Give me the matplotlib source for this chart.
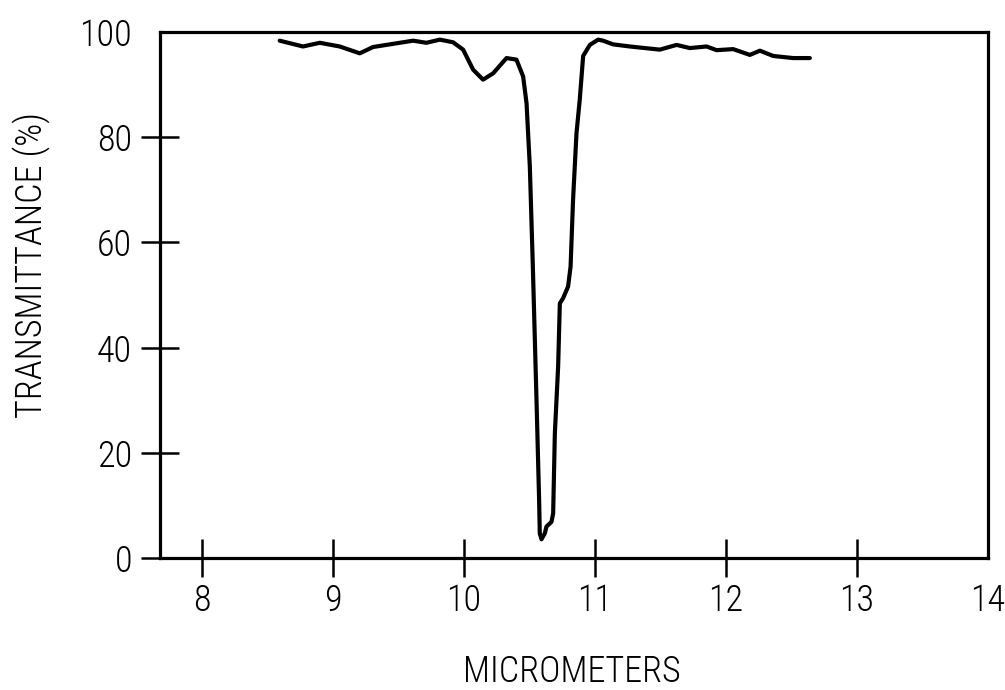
import numpy as np
import matplotlib
matplotlib.use('Agg')
import matplotlib.pyplot as plt

plt.rcParams['font.family'] = ['Roboto Condensed', 'Liberation Sans Narrow',
                               'DejaVu Sans Condensed', 'DejaVu Sans']
plt.rcParams['font.stretch'] = 'condensed'
plt.rcParams['font.weight'] = 'light'

# transmittance spectrum
wavelength = [8.595, 8.773, 8.901, 9.053, 9.206, 9.308, 9.511, 9.613, 9.715, 9.817,
              9.918, 9.995, 10.071, 10.147, 10.224, 10.326, 10.402, 10.453, 10.479, 10.504,
              10.527, 10.555, 10.575, 10.580, 10.593, 10.618, 10.631, 10.669, 10.682, 10.695,
              10.720, 10.733, 10.758, 10.796, 10.815, 10.834, 10.860, 10.885, 10.911, 10.962,
              11.025, 11.063, 11.140, 11.267, 11.496, 11.624, 11.725, 11.853, 11.929, 12.056,
              12.183, 12.260, 12.361, 12.514, 12.641]
transmittance = [98.3, 97.2, 97.9, 97.2, 95.9, 97.1, 97.9, 98.3, 97.9, 98.5,
                 98.0, 96.6, 92.8, 90.9, 92.1, 95.0, 94.7, 91.5, 86.4, 74.4,
                 55.4, 30.0, 11.0, 4.7, 3.6, 4.7, 6.0, 6.9, 8.5, 23.7,
                 36.4, 48.4, 49.4, 51.6, 55.4, 68.1, 80.7, 87.1, 95.4, 97.5,
                 98.5, 98.3, 97.6, 97.2, 96.6, 97.5, 96.9, 97.2, 96.5, 96.7,
                 95.6, 96.4, 95.4, 95.0, 95.0]

x_ticks = [8, 9, 10, 11, 12, 13, 14]
y_ticks = [0, 20, 40, 60, 80, 100]

fig = plt.figure(figsize=(10.05, 6.9), dpi=100)
ax = fig.add_axes([0.159, 0.191, 0.824, 0.763])

ax.plot(wavelength, transmittance, color='black', linewidth=3.0,
        solid_joinstyle='round', solid_capstyle='round')

ax.set_xlim(7.68, 14.0)
ax.set_ylim(0, 100)
ax.set_xticks(x_ticks)
ax.set_yticks(y_ticks)
ax.set_xticklabels([str(t) for t in x_ticks])
ax.set_yticklabels([str(t) for t in y_ticks])

for s in ax.spines.values():
    s.set_linewidth(2.3)
ax.tick_params(axis='both', direction='inout', length=28, width=1.8,
               labelsize=26, colors='black')
ax.tick_params(axis='x', pad=4)
ax.tick_params(axis='y', pad=6)
# top and right spines carry no marks at 100 / 14
ax.yaxis.get_major_ticks()[-1].tick1line.set_visible(False)
ax.xaxis.get_major_ticks()[-1].tick1line.set_visible(False)

fig.text(0.569, 0.0, 'MICROMETERS', fontsize=26, ha='center', va='bottom')
fig.text(0.013, 0.616, 'TRANSMITTANCE (%)', fontsize=26, rotation=90,
         ha='left', va='center')

fig.savefig('out.png', dpi=100)
